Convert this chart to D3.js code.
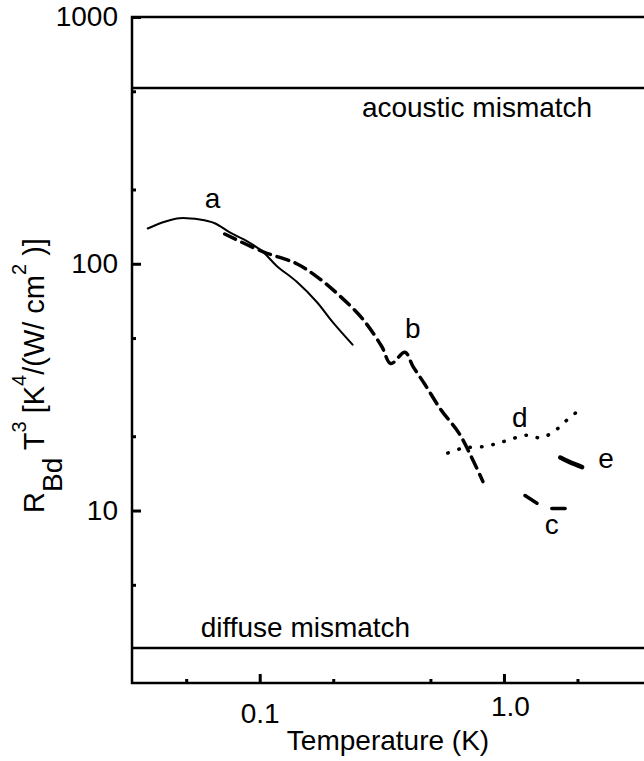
<!DOCTYPE html>
<html>
<head>
<meta charset="utf-8">
<script src="https://cdn.jsdelivr.net/npm/d3@7"></script>
<style>
  body { margin: 0; background: #fff; }
  svg { display: block; font-family: Arial, "Liberation Sans", sans-serif; }
</style>
</head>
<body>
<div id="d3-container"></div>
<script>
// Curves: [temperature (K), R_Bd T^3]
const curveA = [[0.0348, 139], [0.0408, 148], [0.047, 153], [0.0568, 151], [0.0654, 146],
  [0.0754, 134], [0.0893, 123], [0.1028, 112], [0.1174, 98], [0.1418, 84.5],
  [0.1713, 70], [0.199, 58], [0.24, 47]];
const curveB = [[0.0719, 132], [0.1028, 112], [0.1418, 100], [0.176, 86.9], [0.213, 74],
  [0.264, 59.7], [0.316, 46.2], [0.344, 39.4], [0.393, 43.8], [0.424, 38.4],
  [0.475, 32.4], [0.552, 25.6], [0.654, 20.6], [0.74, 16.3], [0.82, 13.1]];
const curveC = [[1.22, 11.5], [1.365, 10.7], null, [1.57, 10.2], [1.78, 10.2]];
const curveD = [[0.589, 17.1], [0.679, 17.9], [0.836, 18.2], [1.01, 19.1], [1.24, 20.2],
  [1.41, 19.7], [1.59, 20.8], [1.85, 23.7], [1.99, 25.1]];
const curveE = [[1.7, 16.4], [1.86, 15.7], [2.09, 15.0]];

// Limits
const acousticR = 515;
const diffuseR = 2.77;

// Curve letters and where they sit
const letters = ["a", "b", "c", "d", "e"];
const letterT = [0.0595, 0.393, 1.47, 1.08, 2.43];
const letterR = [169, 49.8, 8.07, 21.7, 14.9];

// Ticks
const yMajor = [10, 100, 1000];
const yMinor = [5, 20, 50, 200, 500];
const xMajor = [0.1, 1];
const xMajorLabels = ["0.1", "1.0"];
const xMinor = [0.05, 0.2, 0.5, 2];

const width = 644;
const height = 761;

const svg = d3
  .select("#d3-container")
  .append("svg")
  .attr("width", width)
  .attr("height", height);

const xScale = d3.scaleLog().domain([0.03, 4]).range([132, 651]);
const yScale = d3.scaleLog().domain([2, 1000]).range([683, 17]);

// frame
svg.append("rect")
  .attr("x", xScale.range()[0])
  .attr("y", yScale.range()[1])
  .attr("width", xScale.range()[1] - xScale.range()[0])
  .attr("height", yScale.range()[0] - yScale.range()[1])
  .attr("fill", "none")
  .attr("stroke", "#000")
  .attr("stroke-width", 2.5);

// Y axis
const yAxis = svg.append("g")
  .attr("transform", `translate(${xScale.range()[0]},0)`)
  .call(d3.axisLeft(yScale).tickValues(yMajor).tickFormat(d3.format("d"))
    .tickSizeInner(-9).tickSizeOuter(0).tickPadding(14));
yAxis.select(".domain").remove();
yAxis.selectAll("line").attr("stroke-width", 3);
yAxis.selectAll("text").attr("font-size", 28).attr("fill", "#000").attr("font-family", null);

const yAxisMinor = svg.append("g")
  .attr("transform", `translate(${xScale.range()[0]},0)`)
  .call(d3.axisLeft(yScale).tickValues(yMinor).tickFormat("")
    .tickSizeInner(-4).tickSizeOuter(0));
yAxisMinor.select(".domain").remove();
yAxisMinor.selectAll("line").attr("stroke-width", 3);

// X axis
const xAxis = svg.append("g")
  .attr("transform", `translate(0,${yScale.range()[0]})`)
  .call(d3.axisBottom(xScale).tickValues(xMajor).tickFormat((d, i) => xMajorLabels[i])
    .tickSizeInner(-9).tickSizeOuter(0).tickPadding(20));
xAxis.select(".domain").remove();
xAxis.selectAll("line").attr("stroke-width", 3);
xAxis.selectAll("text").attr("font-size", 28).attr("fill", "#000").attr("font-family", null);
xAxis.selectAll("text").filter((d) => d === 1).attr("dx", 6).attr("y", 13);

const xAxisMinor = svg.append("g")
  .attr("transform", `translate(0,${yScale.range()[0]})`)
  .call(d3.axisBottom(xScale).tickValues(xMinor).tickFormat("")
    .tickSizeInner(-4).tickSizeOuter(0));
xAxisMinor.select(".domain").remove();
xAxisMinor.selectAll("line").attr("stroke-width", 3);

// mismatch limits
[acousticR, diffuseR].forEach((r) => {
  svg.append("line")
    .attr("x1", xScale.range()[0])
    .attr("x2", xScale.range()[1])
    .attr("y1", yScale(r))
    .attr("y2", yScale(r))
    .attr("stroke", "#000")
    .attr("stroke-width", 2.5);
});

svg.append("text")
  .attr("x", xScale(0.262))
  .attr("y", yScale(acousticR) + 29)
  .attr("font-size", 28)
  .text("acoustic mismatch");

svg.append("text")
  .attr("x", xScale(0.0573))
  .attr("y", yScale(diffuseR) - 11)
  .attr("font-size", 28)
  .text("diffuse mismatch");

// curves
const line = d3.line()
  .defined((d) => d !== null)
  .x((d) => xScale(d[0]))
  .y((d) => yScale(d[1]))
  .curve(d3.curveCatmullRom);

const curves = [
  { data: curveA, width: 2, dash: null },
  { data: curveB, width: 3.5, dash: "12,7" },
  { data: curveC, width: 3.5, dash: null },
  { data: curveD, width: 3.5, dash: "0.5,11" },
  { data: curveE, width: 4.5, dash: null },
];

svg.selectAll(".curve")
  .data(curves)
  .enter()
  .append("path")
  .attr("class", "curve")
  .attr("d", (d) => line(d.data))
  .attr("fill", "none")
  .attr("stroke", "#000")
  .attr("stroke-width", (d) => d.width)
  .attr("stroke-linecap", "round")
  .attr("stroke-dasharray", (d) => d.dash);

svg.selectAll(".letter")
  .data(letters)
  .enter()
  .append("text")
  .attr("class", "letter")
  .attr("x", (d, i) => xScale(letterT[i]))
  .attr("y", (d, i) => yScale(letterR[i]))
  .attr("font-size", 28)
  .text((d) => d);

// axis titles
svg.append("text")
  .attr("x", 388)
  .attr("y", 750)
  .attr("text-anchor", "middle")
  .attr("font-size", 28)
  .text("Temperature (K)");

const yTitle = svg.append("text")
  .attr("transform", "translate(44,513) rotate(-90)")
  .attr("font-size", 29);
yTitle.append("tspan").text("R");
yTitle.append("tspan").attr("dy", 18).attr("font-size", 28).text("Bd");
yTitle.append("tspan").attr("dy", -18).text(" T");
yTitle.append("tspan").attr("dy", -18).attr("font-size", 20).text("3");
yTitle.append("tspan").attr("dy", 18).text(" [K");
yTitle.append("tspan").attr("dy", -18).attr("font-size", 20).text("4");
yTitle.append("tspan").attr("dy", 18).text("/(W/ cm");
yTitle.append("tspan").attr("dy", -18).attr("font-size", 20).text("2");
yTitle.append("tspan").attr("dy", 18).text(" )]");
</script>
</body>
</html>
